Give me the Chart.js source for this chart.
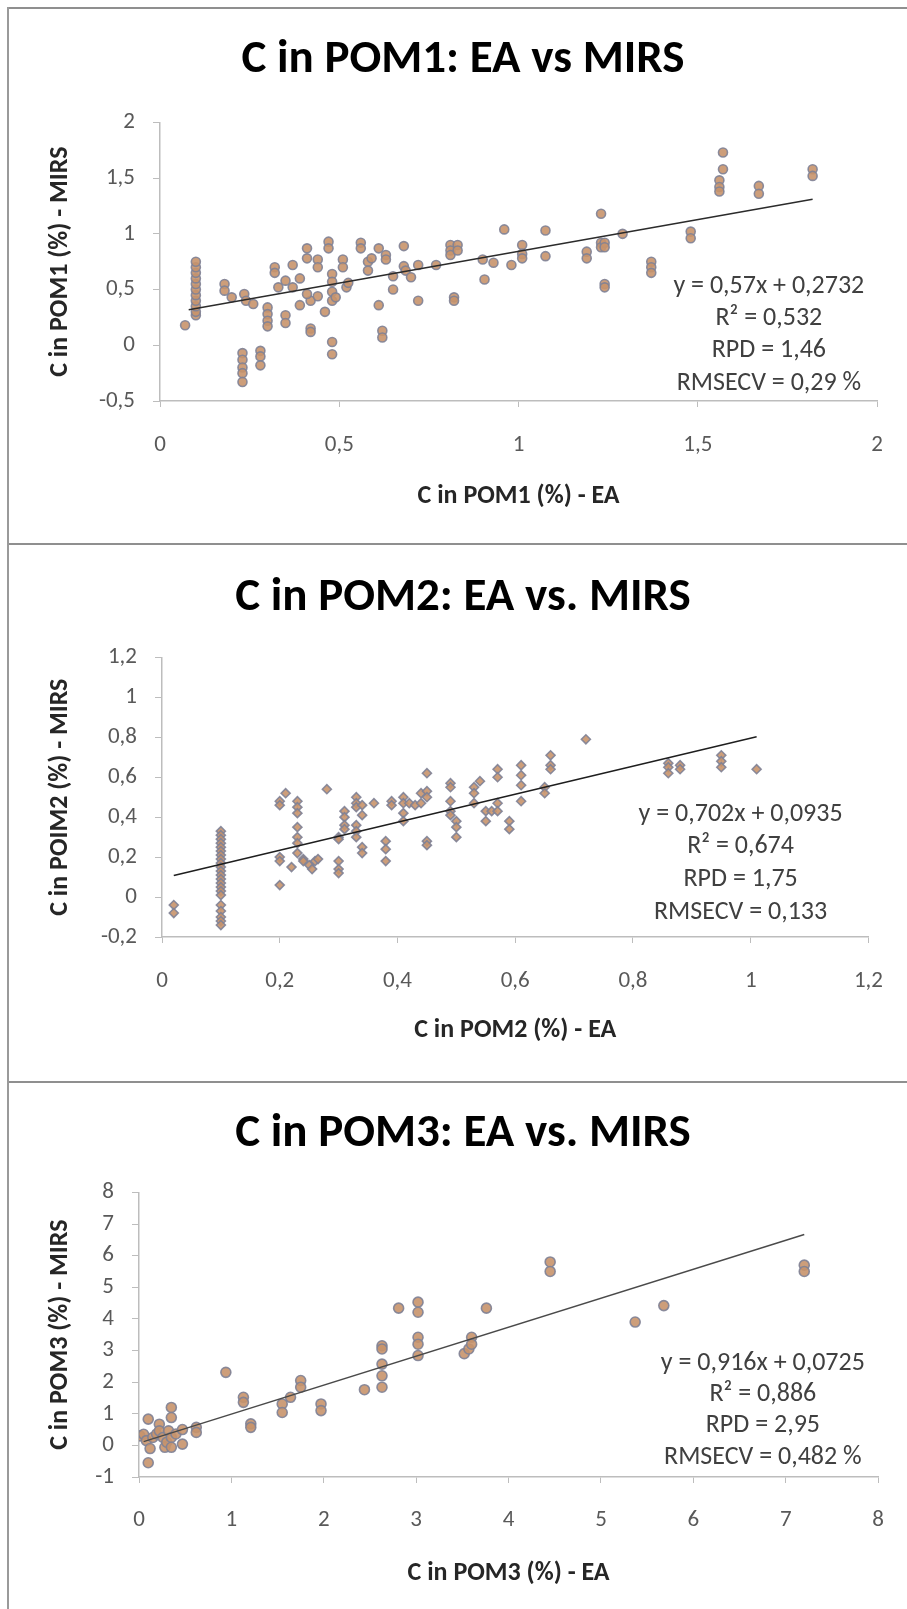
<!DOCTYPE html>
<html>
<head>
<meta charset="utf-8">
<script src="https://cdn.jsdelivr.net/npm/chart.js@4.4.1/dist/chart.umd.min.js"></script>
<style>
  html, body { margin: 0; padding: 0; background: #fff; }
  body { width: 907px; height: 1609px; position: relative; overflow: hidden; }
  canvas { position: absolute; left: 0; }
  .hline { position: absolute; left: 7px; right: 0; height: 2px; background: #8f8f8f; }
  .vline { position: absolute; left: 7px; top: 7px; bottom: 0; width: 2px; background: #9a9a9a; }
</style>
</head>
<body>
<div class="hline" style="top:7px"></div>
<div class="hline" style="top:543px"></div>
<div class="hline" style="top:1081px"></div>
<div class="vline"></div>
<canvas id="c1" width="907" height="534" style="top:9px"></canvas>
<canvas id="c2" width="907" height="536" style="top:545px"></canvas>
<canvas id="c3" width="907" height="526" style="top:1083px"></canvas>
<script>
// ---- POM1 ----
const ea1 = [0.07, 0.10, 0.10, 0.10, 0.10, 0.10, 0.10, 0.10, 0.10, 0.10, 0.10, 0.10,
  0.18, 0.18, 0.20, 0.23, 0.23, 0.23, 0.23, 0.23, 0.235, 0.24, 0.26, 0.28, 0.28, 0.28,
  0.30, 0.30, 0.30, 0.30, 0.32, 0.32, 0.33, 0.35, 0.35, 0.35, 0.37, 0.37, 0.39, 0.39,
  0.41, 0.41, 0.42, 0.42, 0.42, 0.41, 0.44, 0.44, 0.44, 0.46, 0.47, 0.47,
  0.48, 0.48, 0.48, 0.48, 0.48, 0.48, 0.49, 0.51, 0.51, 0.52, 0.525, 0.56, 0.56,
  0.58, 0.58, 0.59, 0.61, 0.61, 0.62, 0.62, 0.63, 0.63, 0.65, 0.65, 0.68, 0.68, 0.685,
  0.70, 0.72, 0.72, 0.77, 0.81, 0.81, 0.81, 0.82, 0.82, 0.83, 0.83, 0.90, 0.905, 0.93,
  0.96, 0.98, 1.01, 1.01, 1.01, 1.075, 1.075, 1.19, 1.19,
  1.23, 1.23, 1.23, 1.24, 1.24, 1.24, 1.24, 1.29, 1.37, 1.37, 1.37, 1.48, 1.48,
  1.57, 1.57, 1.56, 1.56, 1.56, 1.67, 1.67, 1.82, 1.82];
const mirs1 = [0.18, 0.27, 0.30, 0.35, 0.40, 0.45, 0.50, 0.55, 0.60, 0.65, 0.70, 0.75,
  0.55, 0.49, 0.43, -0.07, -0.13, -0.20, -0.25, -0.33, 0.46, 0.40, 0.37, -0.05, -0.10, -0.18,
  0.34, 0.28, 0.22, 0.17, 0.70, 0.65, 0.52, 0.58, 0.27, 0.20, 0.72, 0.52, 0.60, 0.36,
  0.87, 0.78, 0.40, 0.15, 0.12, 0.46, 0.77, 0.70, 0.44, 0.30, 0.93, 0.87,
  0.64, 0.57, 0.48, 0.40, 0.03, -0.08, 0.43, 0.77, 0.70, 0.52, 0.56, 0.92, 0.87,
  0.75, 0.67, 0.78, 0.87, 0.36, 0.13, 0.07, 0.81, 0.77, 0.62, 0.50, 0.89, 0.71, 0.67,
  0.61, 0.72, 0.40, 0.72, 0.90, 0.85, 0.81, 0.43, 0.40, 0.90, 0.85, 0.77, 0.59, 0.74,
  1.04, 0.72, 0.90, 0.82, 0.78, 1.03, 0.80, 0.84, 0.78,
  1.18, 0.92, 0.88, 0.92, 0.88, 0.55, 0.52, 1.00, 0.75, 0.70, 0.65, 1.02, 0.96,
  1.73, 1.58, 1.48, 1.42, 1.38, 1.43, 1.36, 1.58, 1.52];
const trendX1 = [0.08, 1.82];
const trendY1 = [0.319, 1.311];
const stats1 = ['y = 0,57x + 0,2732', 'R² = 0,532', 'RPD = 1,46', 'RMSECV = 0,29 %'];

// ---- POM2 ----
const ea2 = [0.02, 0.02,
  0.10, 0.10, 0.10, 0.10, 0.10, 0.10, 0.10, 0.10, 0.10, 0.10, 0.10, 0.10, 0.10, 0.10, 0.10, 0.10, 0.10, 0.10, 0.10, 0.10, 0.10, 0.10,
  0.20, 0.20, 0.21, 0.20, 0.20, 0.20, 0.22,
  0.23, 0.23, 0.23, 0.23, 0.23, 0.23, 0.23, 0.24, 0.24, 0.25, 0.255, 0.26, 0.265, 0.28,
  0.30, 0.30, 0.30, 0.30, 0.30, 0.31, 0.31, 0.31, 0.31,
  0.33, 0.33, 0.33, 0.33, 0.33, 0.33, 0.34, 0.34, 0.34, 0.34, 0.36, 0.38, 0.38, 0.38, 0.39, 0.39,
  0.41, 0.41, 0.41, 0.41, 0.42, 0.43, 0.44, 0.44, 0.45, 0.45, 0.45, 0.45, 0.45,
  0.49, 0.49, 0.49, 0.49, 0.49, 0.50, 0.50, 0.50, 0.53, 0.53, 0.53, 0.54, 0.55, 0.55, 0.56,
  0.57, 0.57, 0.57, 0.57, 0.59, 0.59, 0.61, 0.61, 0.61, 0.61, 0.65, 0.65, 0.66, 0.66, 0.66,
  0.72, 0.86, 0.86, 0.86, 0.88, 0.88, 0.95, 0.95, 0.95, 1.01];
const mirs2 = [-0.04, -0.08,
  0.33, 0.31, 0.29, 0.27, 0.25, 0.23, 0.21, 0.19, 0.17, 0.15, 0.13, 0.11, 0.09, 0.07, 0.05, 0.03, 0.01, -0.04, -0.07, -0.10, -0.12, -0.14,
  0.48, 0.46, 0.52, 0.20, 0.18, 0.06, 0.15,
  0.48, 0.45, 0.42, 0.35, 0.30, 0.27, 0.22, 0.19, 0.18, 0.16, 0.14, 0.18, 0.19, 0.54,
  0.30, 0.29, 0.18, 0.14, 0.12, 0.43, 0.40, 0.36, 0.34,
  0.50, 0.47, 0.45, 0.36, 0.33, 0.30, 0.46, 0.41, 0.25, 0.22, 0.47, 0.28, 0.24, 0.18, 0.48, 0.46,
  0.50, 0.47, 0.42, 0.38, 0.47, 0.46, 0.52, 0.47, 0.62, 0.53, 0.50, 0.28, 0.26,
  0.57, 0.55, 0.48, 0.43, 0.41, 0.38, 0.35, 0.30, 0.55, 0.52, 0.47, 0.58, 0.43, 0.38, 0.43,
  0.64, 0.60, 0.47, 0.43, 0.38, 0.34, 0.66, 0.61, 0.56, 0.48, 0.55, 0.52, 0.71, 0.66, 0.64,
  0.79, 0.67, 0.65, 0.62, 0.66, 0.64, 0.71, 0.68, 0.65, 0.64];
const trendX2 = [0.02, 1.01];
const trendY2 = [0.108, 0.803];
const stats2 = ['y = 0,702x + 0,0935', 'R² = 0,674', 'RPD = 1,75', 'RMSECV = 0,133'];

// ---- POM3 ----
const ea3 = [0.01, 0.05, 0.08, 0.10, 0.10, 0.12, 0.15, 0.19, 0.22, 0.22, 0.26, 0.28, 0.30, 0.32,
  0.35, 0.35, 0.35, 0.35, 0.40, 0.47, 0.47, 0.62, 0.62,
  0.94, 1.13, 1.13, 1.21, 1.21, 1.55, 1.55, 1.64, 1.75, 1.75, 1.97, 1.97, 2.44,
  2.63, 2.63, 2.63, 2.63, 2.63, 2.81, 3.02, 3.02, 3.02, 3.02, 3.02,
  3.52, 3.57, 3.60, 3.60, 3.76, 4.45, 4.45, 5.37, 5.68, 7.20, 7.20];
const mirs3 = [0.30, 0.35, 0.15, -0.55, 0.83, -0.10, 0.25, 0.36, 0.67, 0.46, 0.25, -0.06, 0.10, 0.46,
  1.20, 0.88, 0.25, -0.06, 0.36, 0.50, 0.04, 0.57, 0.41,
  2.31, 1.52, 1.36, 0.68, 0.57, 1.31, 1.04, 1.52, 2.05, 1.84, 1.31, 1.10, 1.76,
  3.15, 3.05, 2.57, 2.20, 1.84, 4.34, 4.53, 4.21, 3.42, 3.20, 2.84,
  2.90, 3.05, 3.42, 3.20, 4.34, 5.80, 5.50, 3.90, 4.42, 5.70, 5.50];
const trendX3 = [0.05, 7.20];
const trendY3 = [0.118, 6.668];
const stats3 = ['y = 0,916x + 0,0725', 'R² = 0,886', 'RPD = 2,95', 'RMSECV = 0,482 %'];

const FONT = "Carlito, Calibri, 'Liberation Sans Narrow', 'Open Sans', sans-serif";

function fmt(v) {
  return String(Math.round(v * 10) / 10).replace('.', ',');
}

// draws the regression statistics box inside the plot
const statsPlugin = {
  id: 'stats',
  afterDatasetsDraw(chart, args, opts) {
    const a = chart.chartArea;
    const ctx = chart.ctx;
    ctx.save();
    ctx.font = '26px ' + FONT;
    ctx.fillStyle = '#404040';
    ctx.textAlign = 'center';
    ctx.textBaseline = 'middle';
    const cx = a.left + opts.cx * (a.right - a.left);
    let y = a.top + opts.cy * (a.bottom - a.top);
    opts.lines.forEach(function(t) {
      ctx.fillText(t, cx, y);
      y += opts.step;
    });
    ctx.restore();
  }
};

function makeChart(id, cfg) {
  const pts = cfg.x.map(function(v, i) { return {x: v, y: cfg.y[i]}; });
  const trend = cfg.tx.map(function(v, i) { return {x: v, y: cfg.ty[i]}; });
  const tickLine = '#bdbdbd';
  return new Chart(document.getElementById(id), {
    type: 'scatter',
    data: {
      datasets: [{
        data: pts,
        pointStyle: cfg.marker,
        pointRadius: cfg.radius,
        pointBackgroundColor: 'rgba(200, 148, 108, 0.9)',
        pointBorderColor: 'rgba(128, 130, 150, 0.9)',
        pointBorderWidth: 1.6,
        order: 2
      }, {
        type: 'line',
        data: trend,
        borderColor: cfg.trendColor,
        borderWidth: 1.5,
        pointRadius: 0,
        fill: false,
        order: 1
      }]
    },
    options: {
      responsive: false,
      animation: false,
      layout: { padding: { left: cfg.padL, right: cfg.padR, top: 0, bottom: cfg.padB } },
      plugins: {
        legend: { display: false },
        tooltip: { enabled: false },
        title: {
          display: true,
          text: cfg.title,
          color: '#000',
          font: { family: FONT, size: 47, weight: 'bold', lineHeight: 1.2 },
          padding: { top: cfg.titleTop, bottom: cfg.titleBottom }
        },
        stats: { lines: cfg.stats, cx: cfg.sx, cy: cfg.sy, step: cfg.step }
      },
      scales: {
        x: {
          type: 'linear',
          min: cfg.xmin, max: cfg.xmax,
          afterFit: function(s) { s.height = cfg.xh; },
          ticks: { stepSize: cfg.xstep, callback: fmt, color: '#595959',
            font: { family: FONT, size: 23 }, padding: cfg.xtp, maxRotation: 0 },
          grid: { drawOnChartArea: false, drawTicks: true, tickLength: 6, color: tickLine },
          border: { display: true, color: tickLine, width: 1.5 },
          title: { display: true, text: cfg.xlabel, color: '#262626',
            font: { family: FONT, size: 26, weight: 'bold', lineHeight: 1.2 },
            padding: { top: 0, bottom: 0 } }
        },
        y: {
          type: 'linear',
          min: cfg.ymin, max: cfg.ymax,
          afterFit: function(s) { s.width = cfg.yw; },
          ticks: { stepSize: cfg.ystep, callback: fmt, color: '#595959',
            font: { family: FONT, size: 23 }, padding: 18 },
          grid: { drawOnChartArea: false, drawTicks: true, tickLength: 7, color: tickLine },
          border: { display: true, color: tickLine, width: 1.5 },
          title: { display: true, text: cfg.ylabel, color: '#262626',
            font: { family: FONT, size: 26, weight: 'bold', lineHeight: 1.2 },
            padding: { top: cfg.ytp, bottom: 0 } }
        }
      }
    },
    plugins: [statsPlugin]
  });
}

makeChart('c1', {
  x: ea1, y: mirs1, tx: trendX1, ty: trendY1, stats: stats1,
  title: 'C in POM1: EA vs MIRS', xlabel: 'C in POM1 (%) - EA', ylabel: 'C in POM1 (%) - MIRS',
  marker: 'circle', radius: 4.5, trendColor: '#2b2b2b',
  xmin: 0, xmax: 2, xstep: 0.5, ymin: -0.5, ymax: 2, ystep: 0.5,
  padL: 42, padR: 23, padB: 31, yw: 118, ytp: 3, xh: 111, xtp: 24,
  titleTop: 23, titleBottom: 34,
  sx: 0.849, sy: 0.588, step: 32.3
});

makeChart('c2', {
  x: ea2, y: mirs2, tx: trendX2, ty: trendY2, stats: stats2,
  title: 'C in POM2: EA vs. MIRS', xlabel: 'C in POM2 (%) - EA', ylabel: 'C in POIM2 (%) - MIRS',
  marker: 'rectRot', radius: 4.5, trendColor: '#1e1e1e',
  xmin: 0, xmax: 1.2, xstep: 0.2, ymin: -0.2, ymax: 1.2, ystep: 0.2,
  padL: 50, padR: 31, padB: 35, yw: 112, ytp: -5, xh: 109, xtp: 24,
  titleTop: 25, titleBottom: 31,
  sx: 0.819, sy: 0.561, step: 32.7
});

makeChart('c3', {
  x: ea3, y: mirs3, tx: trendX3, ty: trendY3, stats: stats3,
  title: 'C in POM3: EA vs. MIRS', xlabel: 'C in POM3 (%) - EA', ylabel: 'C in POM3 (%) - MIRS',
  marker: 'circle', radius: 5, trendColor: '#4a4a4a',
  xmin: 0, xmax: 8, xstep: 1, ymin: -1, ymax: 8, ystep: 1,
  padL: 42, padR: 23, padB: 20, yw: 97, ytp: 3, xh: 112, xtp: 23,
  titleTop: 23, titleBottom: 30,
  sx: 0.844, sy: 0.6, step: 31.3
});
</script>
</body>
</html>
